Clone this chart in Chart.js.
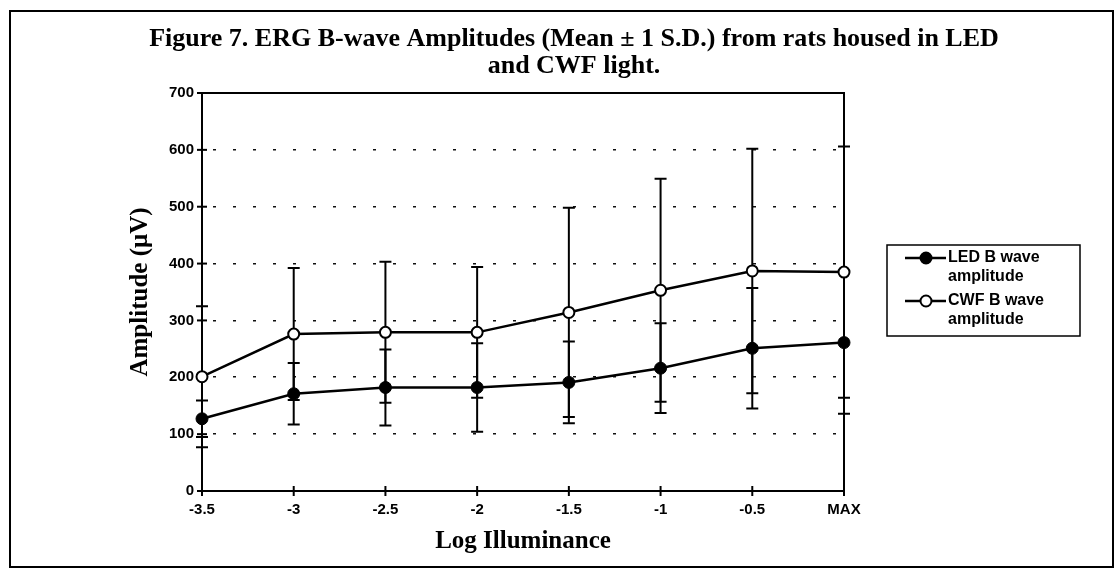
<!DOCTYPE html>
<html>
<head>
<meta charset="utf-8">
<script src="https://cdn.jsdelivr.net/npm/chart.js@4/dist/chart.umd.min.js"></script>
<style>
  html, body { margin: 0; padding: 0; background: #fff; }
  #wrap { width: 1116px; height: 575px; position: relative; }
</style>
</head>
<body>
<div id="wrap"><canvas id="c" width="1116" height="575"></canvas></div>
<script>
const categories = ['-3.5', '-3', '-2.5', '-2', '-1.5', '-1', '-0.5', 'MAX'];
const ledMean = [127, 171, 182, 182, 191, 216, 251, 261];
const ledSd   = [32, 54, 67, 78, 72, 79, 106, 125];
const cwfMean = [201, 276, 279, 279, 314, 353, 387, 385];
const cwfSd   = [124, 116, 124, 115, 184, 196, 215, 221];
const yTickValues = [0, 100, 200, 300, 400, 500, 600, 700];
const seriesLabels = [['LED B wave', 'amplitude'], ['CWF B wave', 'amplitude']];
const titleLines = ['Figure 7. ERG B-wave Amplitudes (Mean \u00B1 1 S.D.) from rats housed in LED', 'and CWF light.'];
const xTitle = 'Log Illuminance';
const yTitle = 'Amplitude (\u03BCV)';

const SERIF = '"Liberation Serif", "Times New Roman", serif';
const SANS = '"Liberation Sans", Arial, sans-serif';

const framePlugin = {
  id: 'frame',
  beforeDraw(chart) {
    const ctx = chart.ctx;
    ctx.save();
    ctx.fillStyle = '#fff';
    ctx.fillRect(0, 0, chart.width, chart.height);
    ctx.strokeStyle = '#000';
    ctx.lineWidth = 2;
    ctx.strokeRect(10, 11, 1103, 556);
    // title
    ctx.fillStyle = '#000';
    ctx.font = 'bold 26px ' + SERIF;
    ctx.textAlign = 'center';
    ctx.textBaseline = 'alphabetic';
    ctx.fillText(titleLines[0], 574, 46);
    ctx.fillText(titleLines[1], 574, 73);
    ctx.restore();
  },
  beforeDatasetsDraw(chart) {
    const ctx = chart.ctx;
    const a = chart.chartArea;
    const xs = chart.scales.x, ys = chart.scales.y;
    ctx.save();
    ctx.strokeStyle = '#000';
    ctx.lineWidth = 2;
    ctx.strokeRect(a.left, a.top, a.right - a.left, a.bottom - a.top);
    // crossing tick marks
    ys.ticks.forEach((t) => {
      const py = ys.getPixelForValue(t.value);
      ctx.beginPath(); ctx.moveTo(a.left - 5, py); ctx.lineTo(a.left + 5, py); ctx.stroke();
    });
    xs.ticks.forEach((t, i) => {
      const px = xs.getPixelForTick(i);
      ctx.beginPath(); ctx.moveTo(px, a.bottom - 5); ctx.lineTo(px, a.bottom + 5); ctx.stroke();
    });
    // error bars
    chart.data.datasets.forEach((ds) => {
      const sd = ds.errorBars;
      ds.data.forEach((v, i) => {
        const px = xs.getPixelForValue(i);
        const hi = ys.getPixelForValue(v + sd[i]);
        const lo = ys.getPixelForValue(v - sd[i]);
        ctx.lineWidth = 2;
        ctx.beginPath();
        ctx.moveTo(px, hi); ctx.lineTo(px, lo);
        ctx.moveTo(px - 6, hi); ctx.lineTo(px + 6, hi);
        ctx.moveTo(px - 6, lo); ctx.lineTo(px + 6, lo);
        ctx.stroke();
      });
    });
    ctx.restore();
  },
  afterDraw(chart) {
    const ctx = chart.ctx;
    ctx.save();
    // legend box
    ctx.strokeStyle = '#000';
    ctx.lineWidth = 1.5;
    ctx.strokeRect(887, 245, 193, 91);
    const rows = [258, 301];
    chart.data.datasets.forEach((ds, di) => {
      const y = rows[di];
      ctx.strokeStyle = '#000';
      ctx.lineWidth = 2.5;
      ctx.beginPath(); ctx.moveTo(905, y); ctx.lineTo(946, y); ctx.stroke();
      ctx.beginPath(); ctx.arc(926, y, 5.5, 0, Math.PI * 2);
      ctx.fillStyle = ds.pointBackgroundColor;
      ctx.fill();
      ctx.lineWidth = 2;
      ctx.stroke();
      ctx.fillStyle = '#000';
      ctx.font = 'bold 16px ' + SANS;
      ctx.textAlign = 'left';
      ctx.textBaseline = 'middle';
      ds.label.forEach((s, k) => ctx.fillText(s, 948, y + k * 19));
    });
    ctx.restore();
  }
};

new Chart(document.getElementById('c'), {
  type: 'line',
  data: {
    labels: categories,
    datasets: [
      {
        label: seriesLabels[0],
        data: ledMean,
        errorBars: ledSd,
        borderColor: '#000',
        borderWidth: 2.5,
        pointRadius: 6,
        pointBackgroundColor: '#000',
        pointBorderColor: '#000',
        pointBorderWidth: 1,
        tension: 0
      },
      {
        label: seriesLabels[1],
        data: cwfMean,
        errorBars: cwfSd,
        borderColor: '#000',
        borderWidth: 2.5,
        pointRadius: 5.5,
        pointBackgroundColor: '#fff',
        pointBorderColor: '#000',
        pointBorderWidth: 2,
        tension: 0
      }
    ]
  },
  options: {
    responsive: false,
    animation: false,
    layout: { padding: { top: 93, left: 0, right: 272, bottom: 10 } },
    plugins: {
      legend: { display: false },
      title: { display: false },
      tooltip: { enabled: false }
    },
    scales: {
      x: {
        type: 'category',
        offset: false,
        grid: { display: false, drawTicks: false },
        border: { display: true, color: '#000', width: 2 },
        ticks: {
          color: '#000',
          padding: 10,
          maxRotation: 0,
          autoSkip: false,
          font: { family: SANS, size: 15, weight: 'bold' }
        },
        title: {
          display: true,
          text: xTitle,
          color: '#000',
          font: { family: SERIF, size: 25, weight: 'bold', lineHeight: 1.1 },
          padding: { top: 0, bottom: 10 }
        },
        afterFit(s) { s.height = 74; }
      },
      y: {
        min: 0,
        max: 700,
        afterBuildTicks(s) { s.ticks = yTickValues.map(v => ({ value: v })); },
        grid: {
          drawTicks: false,
          lineWidth: 1.6,
          color: (c) => (c.tick && (c.tick.value === 0 || c.tick.value === 700)) ? 'rgba(0,0,0,0)' : '#111'
        },
        border: { display: true, color: '#000', width: 2, dash: [3, 17], dashOffset: -10 },
        ticks: {
          color: '#000',
          padding: 8,
          font: { family: SANS, size: 15, weight: 'bold' }
        },
        title: {
          display: true,
          text: yTitle,
          color: '#000',
          font: { family: SERIF, size: 25, weight: 'bold', lineHeight: 1.1 },
          padding: { top: 127, bottom: 0 }
        },
        afterFit(s) { s.width = 202; }
      }
    }
  },
  plugins: [framePlugin]
});
</script>
</body>
</html>
